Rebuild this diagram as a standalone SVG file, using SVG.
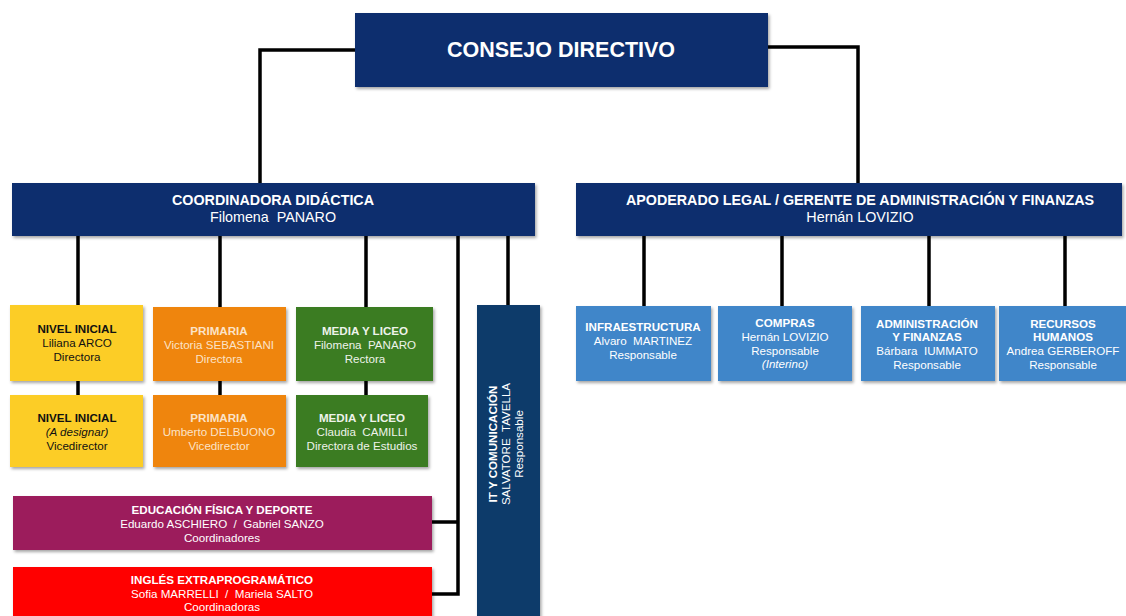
<svg xmlns="http://www.w3.org/2000/svg" width="1126" height="616" viewBox="0 0 1126 616">
<defs>
<filter id="sh" x="-5%" y="-5%" width="115%" height="120%">
<feDropShadow dx="1.5" dy="2" stdDeviation="1.5" flood-color="#000" flood-opacity="0.35"/>
</filter>
<style>
text{font-family:"Liberation Sans",Arial,sans-serif;text-anchor:middle;white-space:pre}
.b{font-weight:bold}
.t11{font-size:11.6px}
.t13{font-size:14.3px}
.w{fill:#ffffff}
.k{fill:#111111}
.pl{fill:#fbe3c8}
.gl{fill:#eef3ea}
.navy{fill:#0f2f6e}
.it{fill:#0a3b6b}
.yel{fill:#fccd26}
.ora{fill:#ef8508}
.grn{fill:#3a7b22}
.pur{fill:#9c1a5c}
.red{fill:#ff0000}
.blu{fill:#3f86c9}
.conn{fill:none;stroke:#000;stroke-width:3.5}
</style>
</defs>
<rect width="1126" height="616" fill="#ffffff"/>
<g id="connectors">
<path class="conn" d="M355 50 H260 V185"/>
<path class="conn" d="M768 47 H858 V185"/>
<path class="conn" d="M78 236 V305 M78 381 V395"/>
<path class="conn" d="M220 236 V307 M220 381 V395"/>
<path class="conn" d="M366 236 V307 M366 381 V395"/>
<path class="conn" d="M458 236 V594 H432 M458 522 H432"/>
<path class="conn" d="M508 236 V305"/>
<path class="conn" d="M644 236 V306"/>
<path class="conn" d="M782 236 V306"/>
<path class="conn" d="M929 236 V306"/>
<path class="conn" d="M1065 236 V306"/>
</g>
<g id="consejo">
<rect class="navy" x="355" y="13" width="413" height="74" filter="url(#sh)"/>
<text class="w b" x="561" y="57" font-size="21.5">CONSEJO DIRECTIVO</text>
</g>
<g id="coordinadora">
<rect class="navy" x="12" y="183" width="523" height="53" filter="url(#sh)"/>
<text class="w b t13" x="273" y="205">COORDINADORA DIDÁCTICA</text>
<text class="w t13" x="273" y="222">Filomena  PANARO</text>
</g>
<g id="apoderado">
<rect class="navy" x="576" y="183" width="546" height="53" filter="url(#sh)"/>
<text class="w b t13" x="860" y="205">APODERADO LEGAL / GERENTE DE ADMINISTRACIÓN Y FINANZAS</text>
<text class="w t13" x="860" y="222">Hernán LOVIZIO</text>
</g>
<g id="nivel-inicial-dir">
<rect class="yel" x="10" y="305" width="133" height="76" filter="url(#sh)"/>
<text class="k b t11" x="77" y="333">NIVEL INICIAL</text>
<text class="k t11" x="77" y="347">Liliana ARCO</text>
<text class="k t11" x="77" y="361">Directora</text>
</g>
<g id="nivel-inicial-vice">
<rect class="yel" x="10" y="395" width="133" height="72" filter="url(#sh)"/>
<text class="k b t11" x="77" y="422">NIVEL INICIAL</text>
<text class="k t11" x="77" y="436" font-style="italic">(A designar)</text>
<text class="k t11" x="77" y="450">Vicedirector</text>
</g>
<g id="primaria-dir">
<rect class="ora" x="153" y="307" width="133" height="74" filter="url(#sh)"/>
<text class="pl b t11" x="219" y="335">PRIMARIA</text>
<text class="pl t11" x="219" y="349">Victoria SEBASTIANI</text>
<text class="pl t11" x="219" y="363">Directora</text>
</g>
<g id="primaria-vice">
<rect class="ora" x="153" y="395" width="133" height="72" filter="url(#sh)"/>
<text class="pl b t11" x="219" y="422">PRIMARIA</text>
<text class="pl t11" x="219" y="436">Umberto DELBUONO</text>
<text class="pl t11" x="219" y="450">Vicedirector</text>
</g>
<g id="media-rectora">
<rect class="grn" x="296" y="307" width="137" height="74" filter="url(#sh)"/>
<text class="gl b t11" x="365" y="335">MEDIA Y LICEO</text>
<text class="gl t11" x="365" y="349">Filomena  PANARO</text>
<text class="gl t11" x="365" y="363">Rectora</text>
</g>
<g id="media-estudios">
<rect class="grn" x="296" y="395" width="132" height="72" filter="url(#sh)"/>
<text class="gl b t11" x="362" y="422">MEDIA Y LICEO</text>
<text class="gl t11" x="362" y="436">Claudia  CAMILLI</text>
<text class="gl t11" x="362" y="450">Directora de Estudios</text>
</g>
<g id="educacion-fisica">
<rect class="pur" x="13" y="496" width="419" height="54" filter="url(#sh)"/>
<text class="w b t11" x="222" y="514">EDUCACIÓN FÍSICA Y DEPORTE</text>
<text class="w t11" x="222" y="528">Eduardo ASCHIERO  /  Gabriel SANZO</text>
<text class="w t11" x="222" y="542">Coordinadores</text>
</g>
<g id="ingles">
<rect class="red" x="13" y="567" width="419" height="52" filter="url(#sh)"/>
<text class="w b t11" x="222" y="584">INGLÉS EXTRAPROGRAMÁTICO</text>
<text class="w t11" x="222" y="598">Sofia MARRELLI  /  Mariela SALTO</text>
<text class="w t11" x="222" y="611">Coordinadoras</text>
</g>
<g id="it">
<rect class="it" x="477" y="305" width="63" height="315" filter="url(#sh)"/>
<g transform="translate(508 444) rotate(-90)">
<text class="w b t11" x="0" y="-11">IT Y COMUNICACIÓN</text>
<text class="w t11" x="0" y="2">SALVATORE  TAVELLA</text>
<text class="w t11" x="0" y="15">Responsable</text>
</g>
</g>
<g id="infraestructura">
<rect class="blu" x="576" y="306" width="135" height="75" filter="url(#sh)"/>
<text class="w b t11" x="643" y="331">INFRAESTRUCTURA</text>
<text class="w t11" x="643" y="345">Alvaro  MARTINEZ</text>
<text class="w t11" x="643" y="359">Responsable</text>
</g>
<g id="compras">
<rect class="blu" x="718" y="306" width="134" height="75" filter="url(#sh)"/>
<text class="w b t11" x="785" y="327">COMPRAS</text>
<text class="w t11" x="785" y="341">Hernán LOVIZIO</text>
<text class="w t11" x="785" y="355">Responsable</text>
<text class="w t11" x="785" y="368" font-style="italic">(Interino)</text>
</g>
<g id="administracion">
<rect class="blu" x="861" y="306" width="134" height="75" filter="url(#sh)"/>
<text class="w b t11" x="927" y="328">ADMINISTRACIÓN</text>
<text class="w b t11" x="927" y="341">Y FINANZAS</text>
<text class="w t11" x="927" y="355">Bárbara  IUMMATO</text>
<text class="w t11" x="927" y="369">Responsable</text>
</g>
<g id="rrhh">
<rect class="blu" x="999" y="306" width="130" height="75" filter="url(#sh)"/>
<text class="w b t11" x="1063" y="328">RECURSOS</text>
<text class="w b t11" x="1063" y="341">HUMANOS</text>
<text class="w t11" x="1063" y="355">Andrea GERBEROFF</text>
<text class="w t11" x="1063" y="369">Responsable</text>
</g>
</svg>
